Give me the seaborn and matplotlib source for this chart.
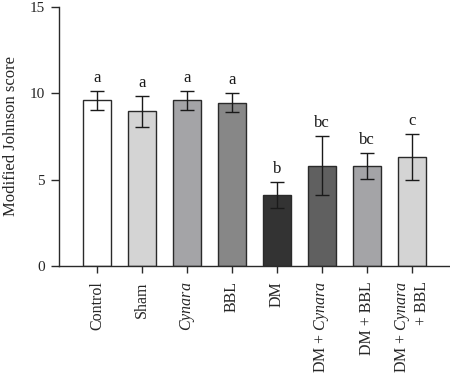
import matplotlib
matplotlib.use("Agg")
import matplotlib.pyplot as plt
import seaborn as sns
import pandas as pd
import numpy as np

groups = ["Control", "Sham", "Cynara", "BBL", "DM", "DM + Cynara", "DM + BBL", "DM + Cynara + BBL"]
tick_labels = ["Control", "Sham", r"$\mathit{Cynara}$", "BBL", "DM",
               r"DM + $\mathit{Cynara}$", "DM + BBL", "DM + $\\mathit{Cynara}$\n+ BBL"]
means = [9.6, 8.95, 9.6, 9.45, 4.1, 5.8, 5.8, 6.3]
errors = [0.55, 0.9, 0.55, 0.55, 0.75, 1.7, 0.75, 1.35]
letters = ["a", "a", "a", "a", "b", "bc", "bc", "c"]
colors = ["#ffffff", "#d4d4d4", "#a4a4a7", "#878787", "#333333", "#606060", "#a4a4a7", "#d4d4d4"]

sns.set_style("ticks")
plt.rcParams["font.family"] = ["Liberation Serif", "DejaVu Serif"]
plt.rcParams["mathtext.fontset"] = "custom"
plt.rcParams["mathtext.it"] = "Liberation Serif:italic"
plt.rcParams["mathtext.rm"] = "Liberation Serif"

df = pd.DataFrame({"group": groups, "score": means})

fig = plt.figure(figsize=(4.5, 3.76), dpi=100)
ax = fig.add_axes([0.131, 0.293, 0.869, 0.688])

sns.barplot(data=df, x="group", y="score", hue="group", palette=colors, legend=False,
            width=0.63, edgecolor="#2a2a2a", linewidth=1.0, ax=ax, errorbar=None)
ax.errorbar(np.arange(len(groups)), means, yerr=errors, fmt="none", ecolor="#1a1a1a",
            elinewidth=1.0, capsize=5, capthick=1.0, zorder=5)
for i, (m, e, l) in enumerate(zip(means, errors, letters)):
    ax.text(i, m + e + 0.3, l, ha="center", va="bottom", fontsize=12, color="#1a1a1a")

ax.set_ylim(0, 15)
ax.set_yticks([0, 5, 10, 15])
ax.set_xlim(-0.85, 7.85)
ax.set_xticks(np.arange(len(groups)))
ax.set_xticklabels(tick_labels, rotation=90, fontsize=11.5, multialignment="right")
ax.set_xlabel("")
ax.set_ylabel("Modified Johnson score", fontsize=12, labelpad=8)
ax.tick_params(axis="y", labelsize=11, length=6, width=1, pad=4, direction="out", color="#2a2a2a")
ax.tick_params(axis="x", length=5, width=1, pad=6, direction="out", color="#2a2a2a")
for s in ["top", "right"]:
    ax.spines[s].set_visible(False)
for s in ["left", "bottom"]:
    ax.spines[s].set_linewidth(1.0)
    ax.spines[s].set_color("#2a2a2a")

fig.savefig("out.png", dpi=100)
